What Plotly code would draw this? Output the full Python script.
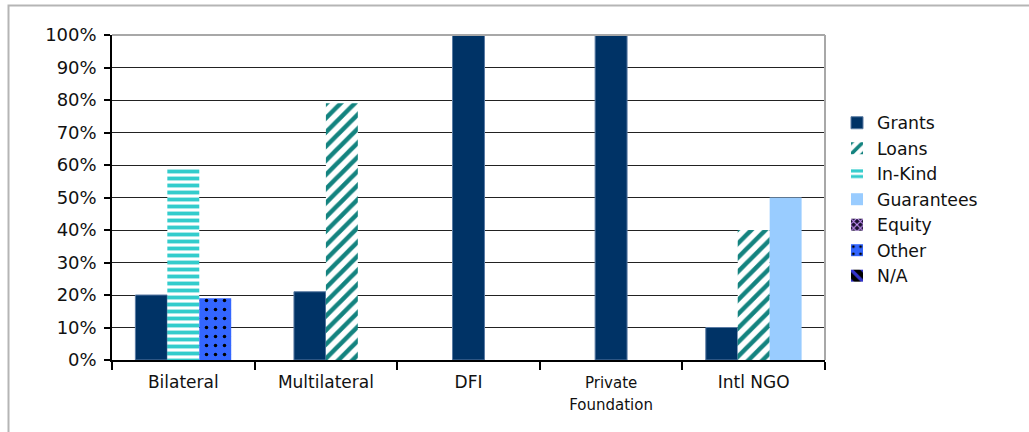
import plotly.graph_objects as go

# ---- data ----
categories = ["Bilateral", "Multilateral", "DFI", "Private Foundation", "Intl NGO"]
tick_labels = ["Bilateral", "Multilateral", "DFI",
               "<span style='font-size:15px'>Private<br>Foundation</span>", "Intl NGO"]
grants = [20, 21, 100, 100, 10]
loans = [0, 79, 0, 0, 40]
in_kind = [59, 0, 0, 0, 0]
guarantees = [0, 0, 0, 0, 50]
equity = [0, 0, 0, 0, 0]
other = [19, 0, 0, 0, 0]
n_a = [0, 0, 0, 0, 0]
y_ticks = list(range(0, 101, 10))

series = [
    ("Grants", grants, dict(color="#003366", line=dict(color="#5a7ba3", width=1))),
    ("Loans", loans, dict(color="white", line=dict(width=0),
                          pattern=dict(shape="/", fgcolor="#13837f", bgcolor="white",
                                       size=10, solidity=0.45, fillmode="replace"))),
    ("In-Kind", in_kind, dict(color="white", line=dict(width=0),
                              pattern=dict(shape="-", fgcolor="#33cccc", bgcolor="white",
                                           size=7, solidity=0.55, fillmode="replace"))),
    ("Guarantees", guarantees, dict(color="#99ccff", line=dict(width=0))),
    ("Equity", equity, dict(color="black", line=dict(width=0),
                            pattern=dict(shape="x", fgcolor="#cc99ff", bgcolor="#1a1030",
                                         size=6, solidity=0.4, fillmode="replace"))),
    ("Other", other, dict(color="#3366ff", line=dict(width=0),
                          pattern=dict(shape=".", fgcolor="#000000", bgcolor="#3366ff",
                                       size=9, solidity=0.12, fillmode="replace"))),
    ("N/A", n_a, dict(color="black", line=dict(width=0),
                      pattern=dict(shape="\\", fgcolor="#3333cc", bgcolor="#000000",
                                   size=12, solidity=0.4, fillmode="replace"))),
]

# pack non-zero bars side by side, centred in each category
bar_w = 0.224
counts = [sum(1 for _, vals, _ in series if vals[i] > 0) for i in range(len(categories))]
slot = [0] * len(categories)

fig = go.Figure()
for name, vals, marker in series:
    ys, offs = [], []
    for i, v in enumerate(vals):
        if v > 0:
            ys.append(v)
            offs.append(-counts[i] * bar_w / 2 + slot[i] * bar_w)
            slot[i] += 1
        else:
            ys.append(None)
            offs.append(0)
    fig.add_trace(go.Bar(x=categories, y=ys, name=name, marker=marker,
                         offset=offs, width=[bar_w] * len(categories)))

font_family = "DejaVu Sans"
W, H = 1029, 432
L, R, T, B = 112, 204, 35, 72
pw, ph = W - L - R, H - T - B


def px2x(px):
    return (px - L) / pw


def px2y(py):
    return (H - B - py) / ph


fig.update_layout(
    width=W, height=H,
    margin=dict(l=L, r=R, t=T, b=B),
    paper_bgcolor="white", plot_bgcolor="white",
    barmode="overlay",
    font=dict(family=font_family, color="#111111", size=17),
    showlegend=True,
    legend=dict(x=px2x(837), xanchor="left", y=px2y(105), yanchor="top",
                font=dict(size=17.3, family=font_family, color="#111111"),
                bgcolor="rgba(0,0,0,0)", traceorder="normal"),
    xaxis=dict(
        type="category", range=[-0.5, 4.5],
        tickmode="array", tickvals=categories, ticktext=tick_labels,
        tickson="boundaries", ticks="outside", ticklen=8, tickcolor="black",
        tickwidth=1.5, showline=True, linecolor="black", linewidth=1.5,
        showgrid=False, tickfont=dict(size=17, family=font_family),
        ticklabelstandoff=6,
    ),
    yaxis=dict(
        range=[0, 100], tickmode="array", tickvals=y_ticks,
        ticktext=[f"{t}%" for t in y_ticks],
        ticks="outside", ticklen=6, tickcolor="black", tickwidth=1.5,
        showline=True, linecolor="black", linewidth=1.5,
        showgrid=True, gridcolor="#222222", gridwidth=1.2,
        zeroline=False, tickfont=dict(size=18, family=font_family),
        ticklabelstandoff=4,
    ),
    shapes=[
        # outer chart frame
        dict(type="rect", xref="paper", yref="paper",
             x0=px2x(8.5), x1=px2x(1060), y0=px2y(460), y1=px2y(5.5),
             line=dict(color="#b5b5b5", width=2), fillcolor="rgba(0,0,0,0)",
             layer="below"),
        # grey plot-area border (top and right)
        dict(type="line", xref="paper", yref="paper", x0=0, x1=1, y0=1, y1=1,
             line=dict(color="#a8a8a8", width=2), layer="above"),
        dict(type="line", xref="paper", yref="paper", x0=1, x1=1, y0=0, y1=1,
             line=dict(color="#a8a8a8", width=2), layer="above"),
    ],
)

fig.write_html("out.html")
